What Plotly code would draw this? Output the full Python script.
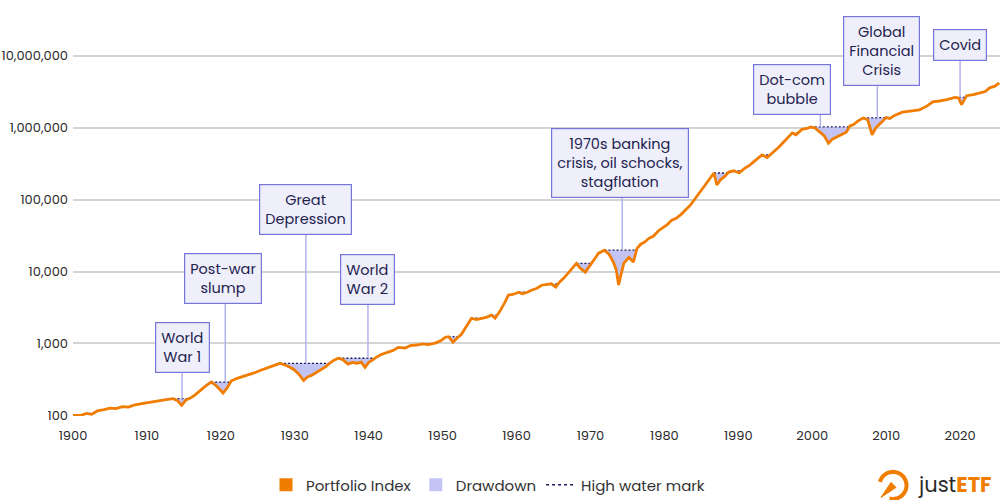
import numpy as np
import plotly.graph_objects as go

# ---------------- data ----------------
years = [1900.0, 1901.0, 1901.8, 1902.5, 1903.3, 1904.2, 1905.0, 1905.8, 1906.7, 1907.5,
         1908.4, 1909.3, 1910.2, 1911.1, 1912.0, 1912.8, 1913.6, 1914.2, 1914.7, 1915.3,
         1916.0, 1916.6, 1917.2, 1918.0, 1918.7, 1919.3, 1919.8, 1920.3, 1920.8, 1921.4,
         1922.2, 1923.0, 1923.7, 1924.5, 1925.3, 1926.0, 1926.8, 1928.0, 1928.6, 1929.3,
         1929.9, 1930.5, 1931.2, 1931.7, 1932.3, 1933.0, 1933.6, 1934.2, 1934.8, 1935.3,
         1935.9, 1936.5, 1937.2, 1937.8, 1938.4, 1939.0, 1939.5, 1940.0, 1940.5, 1941.0,
         1941.7, 1942.5, 1943.3, 1944.0, 1944.9, 1945.6, 1946.5, 1947.3, 1948.0, 1949.0,
         1949.8, 1950.4, 1950.8, 1951.4, 1952.0, 1952.5, 1953.1, 1953.9, 1954.6, 1955.2,
         1956.0, 1956.6, 1957.1, 1957.7, 1958.4, 1958.9, 1959.5, 1960.3, 1960.8, 1961.3,
         1962.0, 1962.7, 1963.4, 1964.0, 1964.7, 1965.3, 1965.8, 1966.4, 1967.0, 1967.6,
         1968.1, 1968.6, 1969.3, 1969.8, 1970.3, 1971.1, 1971.9, 1972.5, 1973.1, 1973.5,
         1973.8, 1974.1, 1974.5, 1975.2, 1975.8, 1976.3, 1976.8, 1977.4, 1977.9, 1978.5,
         1979.2, 1979.8, 1980.4, 1981.0, 1981.6, 1982.3, 1982.9, 1983.6, 1984.3, 1985.0,
         1985.6, 1986.2, 1986.7, 1987.1, 1987.6, 1988.2, 1988.7, 1989.4, 1990.1, 1990.8,
         1991.5, 1992.3, 1993.2, 1993.9, 1994.6, 1995.5, 1996.3, 1997.3, 1997.8, 1998.6,
         1999.3, 1999.8, 2000.4, 2001.0, 2001.6, 2002.2, 2002.7, 2003.3, 2004.0, 2004.6,
         2005.1, 2005.6, 2006.2, 2006.9, 2007.5, 2008.1, 2008.6, 2009.4, 2010.0, 2010.5,
         2011.2, 2012.2, 2013.3, 2014.5, 2015.5, 2016.3, 2017.2, 2018.2, 2019.3, 2019.8,
         2020.2, 2020.6, 2020.9, 2021.8, 2022.7, 2023.4, 2024.0, 2024.7, 2025.3]

values = [100, 99, 106, 103, 115, 120, 126, 124, 132, 130,
          140, 145, 151, 156, 160, 166, 170, 158, 138, 164,
          176, 195, 223, 258, 290, 262, 232, 204, 236, 300,
          327, 345, 362, 388, 420, 446, 482, 528, 505, 470,
          430, 380, 305, 340, 362, 400, 440, 475, 540, 585,
          622, 595, 515, 545, 530, 550, 465, 545, 585, 640,
          700, 740, 800, 880, 860, 930, 950, 985, 965, 1010,
          1100, 1220, 1240, 1040, 1200, 1320, 1650, 2240, 2150, 2210,
          2320, 2480, 2240, 2750, 3700, 4700, 4800, 5150, 4900, 5050,
          5500, 5800, 6450, 6550, 6750, 6100, 7100, 8100, 9500, 11500,
          13000, 11200, 9800, 11600, 13600, 18000, 19800, 17500, 13500, 10500,
          6500, 9000, 13000, 15800, 13500, 21000, 24000, 26000, 29000, 31000,
          37000, 40500, 45000, 52000, 55000, 63000, 72000, 86000, 108000, 135000,
          170000, 200000, 235000, 160000, 190000, 212000, 242000, 252000, 235000, 270000,
          300000, 350000, 420000, 385000, 445000, 540000, 660000, 850000, 800000, 950000,
          980000, 1030000, 990000, 870000, 780000, 610000, 690000, 745000, 820000, 870000,
          1060000, 1110000, 1250000, 1370000, 1300000, 800000, 1000000, 1200000, 1390000, 1350000,
          1500000, 1650000, 1720000, 1780000, 2000000, 2300000, 2360000, 2460000, 2650000, 2600000,
          2100000, 2500000, 2800000, 2900000, 3070000, 3200000, 3600000, 3800000, 4200000]

event_labels = ["World<br>War 1", "Post-war<br>slump", "Great<br>Depression", "World<br>War 2",
                "1970s banking<br>crisis, oil schocks,<br>stagflation", "Dot-com<br>bubble",
                "Global<br>Financial<br>Crisis", "Covid"]
event_years = [1914.75, 1920.6, 1931.5, 1939.9, 1974.3, 2001.1, 2008.8, 2020.0]

y_tick_vals = [100, 1000, 10000, 100000, 1000000, 10000000]
y_tick_text = ["100", "1,000", "10,000", "100,000", "1,000,000", "10,000,000"]
x_tick_vals = [1900, 1910, 1920, 1930, 1940, 1950, 1960, 1970, 1980, 1990, 2000, 2010, 2020]

# ---------------- styling / layout constants ----------------
ORANGE = "#f07d00"
LAVENDER = "#c4c4f4"
NAVY = "#1b1b5e"
BOX_BG = "#efeffb"
BOX_BORDER = "#7676da"
CONNECT = "#b2b2ec"
TXT = "#23234f"
FONT = "Poppins, Inter, sans-serif"

PX_PER_YEAR = 7.39
PX_PER_DEC = 71.8
# box offsets (pixels) relative to each event's high-water-mark point
box_dx_px = [0, -2, 0, 0, -2, -28, 4, 0]
box_dy_px = [51, 103, 154, 79, 87, 37, 67, 52]

# ---------------- derived drawdown geometry ----------------
yrs = np.array(years, dtype=float)
vals = np.array(values, dtype=float)
lv = np.log10(vals)
hwm = np.maximum.accumulate(vals)

ax_, av, ah = [], [], []
for i in range(len(yrs)):
    if i > 0 and vals[i - 1] < hwm[i - 1] and vals[i] >= hwm[i - 1]:
        H = hwm[i - 1]
        t = (np.log10(H) - lv[i - 1]) / (lv[i] - lv[i - 1])
        xc = yrs[i - 1] + t * (yrs[i] - yrs[i - 1])
        ax_.append(xc); av.append(H); ah.append(H)
    ax_.append(yrs[i]); av.append(vals[i]); ah.append(hwm[i])
ax_ = np.array(ax_); av = np.array(av); ah = np.array(ah)
in_dd = av < ah * 0.99999
hw_line = []
for j in range(len(ax_)):
    show = in_dd[j] or (j > 0 and in_dd[j - 1]) or (j < len(ax_) - 1 and in_dd[j + 1])
    hw_line.append(ah[j] if show else None)

fig = go.Figure()
fig.add_trace(go.Scatter(x=ax_, y=ah, mode="lines", line=dict(width=0, color=LAVENDER),
                         showlegend=False, hoverinfo="skip"))
fig.add_trace(go.Scatter(x=ax_, y=av, mode="lines", line=dict(width=0, color=LAVENDER),
                         fill="tonexty", fillcolor=LAVENDER, showlegend=False, hoverinfo="skip"))
fig.add_trace(go.Scatter(x=ax_, y=hw_line, mode="lines", connectgaps=False,
                         line=dict(color=NAVY, width=1.3, dash="2px,2px"),
                         showlegend=False, hoverinfo="skip"))
fig.add_trace(go.Scatter(x=ax_, y=av, mode="lines", line=dict(color=ORANGE, width=2.8),
                         showlegend=False))

# legend proxies
fig.add_trace(go.Scatter(x=[None], y=[None], mode="markers", name="Portfolio Index",
                         marker=dict(symbol="square", size=13, color=ORANGE)))
fig.add_trace(go.Scatter(x=[None], y=[None], mode="markers", name="Drawdown",
                         marker=dict(symbol="square", size=13, color=LAVENDER)))
fig.add_trace(go.Scatter(x=[None], y=[None], mode="lines", name="High water mark",
                         line=dict(color=NAVY, width=1.6, dash="3px,3px")))

# event annotations: a vertical connector (arrow without head) + a text box
hw_log = np.log10(ah)
shapes = []
annotations = []
for lab, ey, dx, dy in zip(event_labels, event_years, box_dx_px, box_dy_px):
    head = float(np.interp(ey, ax_, hw_log))
    annotations.append(dict(x=ey, y=head, xref="x", yref="y", text=" ", showarrow=True,
                            arrowhead=0, arrowwidth=1.5, arrowcolor=CONNECT, ax=0, ay=-dy,
                            standoff=0, startstandoff=0, font=dict(size=1)))
    top = head + dy / PX_PER_DEC
    annotations.append(dict(x=ey + dx / PX_PER_YEAR, y=top, xref="x", yref="y", text=lab,
                            showarrow=False, font=dict(family=FONT, size=14.5, color=TXT),
                            bgcolor=BOX_BG, bordercolor=BOX_BORDER, borderwidth=1.2,
                            borderpad=5, align="center", xanchor="center", yanchor="middle"))

# logo
L, R, T, B = 73, 1000, 20.2, 415.7
def px2paper(px, py):
    return (px - L) / (R - L), (B - py) / (B - T)

cx, cy, rad = 893, 485, 13.5
pts = []
for a in np.linspace(np.radians(165), np.radians(-105), 40):
    pts.append(px2paper(cx + rad * np.cos(a), cy - rad * np.sin(a)))
path = "M " + " L ".join(f"{p[0]:.5f},{p[1]:.5f}" for p in pts)
shapes.append(dict(type="path", xref="paper", yref="paper", path=path,
                   line=dict(color=ORANGE, width=4), layer="above"))
tip = px2paper(cx - 12, cy + 12)
b1 = px2paper(cx - 2, cy - 3)
b2 = px2paper(cx + 3, cy + 2)
shapes.append(dict(type="path", xref="paper", yref="paper",
                   path=f"M {tip[0]:.5f},{tip[1]:.5f} L {b1[0]:.5f},{b1[1]:.5f} L {b2[0]:.5f},{b2[1]:.5f} Z",
                   fillcolor=ORANGE, line=dict(color=ORANGE, width=1), layer="above"))
lx, ly = px2paper(955, 484)
annotations.append(dict(x=lx, y=ly, xref="paper", yref="paper", showarrow=False,
                        text="<span style='color:#2a2a2a'>just</span><b style='color:#f07d00'>ETF</b>",
                        font=dict(family=FONT, size=21), xanchor="center", yanchor="middle",
                        borderpad=0))

fig.update_layout(
    width=1000, height=500,
    margin=dict(l=73, r=0, t=20, b=84),
    paper_bgcolor="white", plot_bgcolor="white",
    font=dict(family=FONT, color="#2b2b2b"),
    showlegend=True,
    legend=dict(orientation="h", xref="container", yref="container", x=0.488, y=0.03,
                xanchor="center", yanchor="middle", font=dict(size=15, color="#333333"),
                itemwidth=30, traceorder="normal"),
    shapes=shapes, annotations=annotations,
    hovermode=False,
)
fig.update_xaxes(range=[1900, 2025.4], tickvals=x_tick_vals, showgrid=False, zeroline=False,
                 showline=False, ticks="", ticklabelstandoff=10,
                 tickfont=dict(size=13, color="#2b2b2b"))
fig.update_yaxes(type="log", range=[1.99, 7.5], tickvals=y_tick_vals, ticktext=y_tick_text,
                 showgrid=True, gridcolor="#d4d4d4", gridwidth=1.5, zeroline=False,
                 showline=False, ticks="", ticklabelstandoff=4,
                 tickfont=dict(size=13, color="#2b2b2b"))

fig.write_html("out.html")
